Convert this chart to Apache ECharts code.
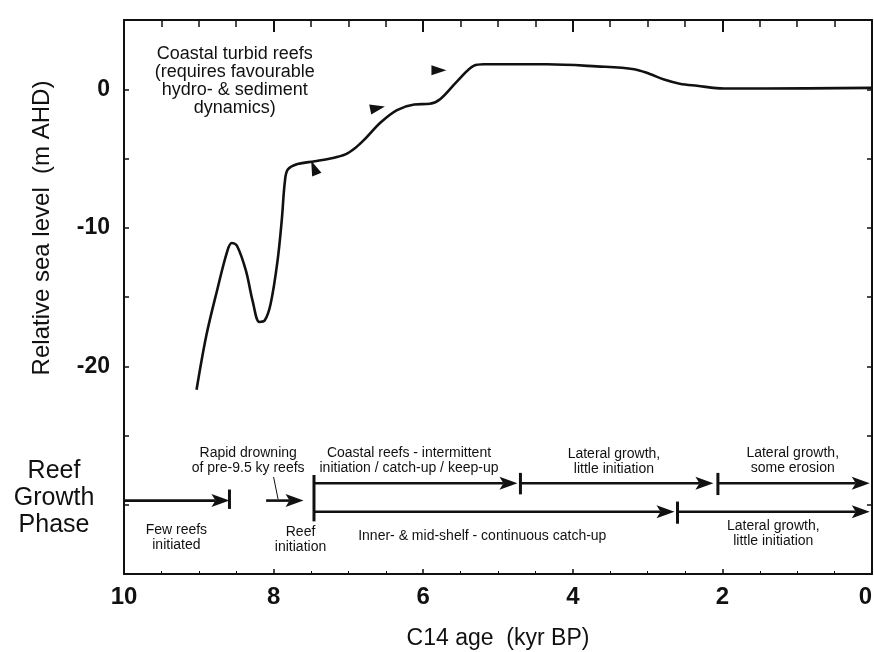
<!DOCTYPE html>
<html><head><meta charset="utf-8">
<script src="https://cdn.jsdelivr.net/npm/echarts@6/dist/echarts.min.js"></script>
<style>html,body{margin:0;padding:0;background:#fff}#c{width:874px;height:652px}</style>
</head><body><div id="c"></div>
<script>
// Relative sea-level curve (C14 age kyr BP, m AHD)
const ageKyr = [9.03, 8.90, 8.75, 8.62, 8.56, 8.49, 8.37, 8.28, 8.19, 8.12, 8.04, 7.95, 7.89, 7.85, 7.81, 7.68, 7.45, 7.24, 7.04, 6.90, 6.78, 6.57, 6.35, 6.12, 5.91, 5.77, 5.55, 5.32, 5.19, 4.35, 3.68, 3.18, 2.97, 2.78, 2.57, 2.34, 1.98, 1.44, 0.00];
const seaLevelM = [-21.7, -17.8, -14.4, -11.7, -11.1, -11.3, -13.1, -15.3, -16.8, -16.7, -15.5, -12.5, -9.4, -6.7, -5.8, -5.4, -5.2, -5.0, -4.7, -4.2, -3.6, -2.4, -1.5, -1.1, -1.05, -0.7, 0.55, 1.7, 1.8, 1.8, 1.65, 1.45, 1.1, 0.7, 0.4, 0.25, 0.05, 0.05, 0.1];

// Axis tick labels
const xTickLabels = [10, 8, 6, 4, 2, 0];
const yTickLabels = [0, -10, -20];

// Small arrowheads along the curve
const curveArrowAge = [7.46, 6.61, 5.79];
const curveArrowLevel = [-5.67, -1.35, 1.37];

// Reef growth phase arrows: from age, to age (tip), level
const phaseFrom = [10.0, 8.10, 7.46, 4.70, 2.06, 7.46, 2.60];
const phaseTo = [8.59, 7.60, 4.74, 2.12, 0.03, 2.64, 0.03];
const phaseLevel = [-29.7, -29.7, -28.45, -28.45, -28.45, -30.5, -30.5];

// Phase boundary bars: age, top level, bottom level
const barAge = [8.59, 7.46, 4.70, 2.06, 2.60];
const barTop = [-28.9, -27.85, -27.7, -27.7, -29.77];
const barBottom = [-30.3, -31.2, -29.25, -29.3, -31.37];

// Leader line from "Rapid drowning" note to its arrow
const leaderAge = [8.00, 7.94];
const leaderLevel = [-28.0, -29.6];

// Phase notes
const noteText = [
  'Rapid drowning\nof pre-9.5 ky reefs',
  'Few reefs\ninitiated',
  'Reef\ninitiation',
  'Coastal reefs - intermittent\ninitiation / catch-up / keep-up',
  'Lateral growth,\nlittle initiation',
  'Lateral growth,\nsome erosion',
  'Inner- & mid-shelf - continuous catch-up',
  'Lateral growth,\nlittle initiation'
];
const noteAge = [8.34, 9.30, 7.64, 6.19, 3.45, 1.06, 5.21, 1.32];
const noteLevel = [-26.8, -32.4, -32.5, -26.8, -26.9, -26.8, -32.3, -32.05];

// Upper annotation
const headNoteText = ['Coastal turbid reefs\n(requires favourable\nhydro- & sediment\ndynamics)'];
const headNoteAge = [8.52];
const headNoteLevel = [0.6];

const FONT = '"Liberation Sans", Arial, Helvetica, sans-serif';
const INK = '#111';

const chart = echarts.init(document.getElementById('c'), null, {renderer: 'canvas'});

const curveArrowRot = [22, -78, -90];

function renderArrow(params, api) {
  const p1 = api.coord([api.value(0), api.value(2)]);
  const p2 = api.coord([api.value(1), api.value(2)]);
  const dx = p2[0] - p1[0], dy = p2[1] - p1[1];
  const len = Math.hypot(dx, dy) || 1;
  const ux = dx / len, uy = dy / len;
  const headL = 18, headW = 6.5;
  const bx = p2[0] - ux * headL, by = p2[1] - uy * headL;
  return {
    type: 'group',
    children: [
      {type: 'line', shape: {x1: p1[0], y1: p1[1], x2: bx + ux * 4, y2: by + uy * 4},
        style: {stroke: INK, lineWidth: 2.6}},
      {type: 'polygon', shape: {points: [
        [p2[0], p2[1]],
        [bx - uy * headW, by + ux * headW],
        [bx + ux * 4, by + uy * 4],
        [bx + uy * headW, by - ux * headW]
      ]}, style: {fill: INK}}
    ]
  };
}

function renderBar(params, api) {
  const a = api.coord([api.value(0), api.value(1)]);
  const b = api.coord([api.value(0), api.value(2)]);
  return {type: 'line', shape: {x1: a[0], y1: a[1], x2: b[0], y2: b[1]},
    style: {stroke: INK, lineWidth: 3}};
}

function makeTextRenderer(texts, size, lh) {
  return function (params, api) {
    const p = api.coord([api.value(0), api.value(1)]);
    return {type: 'text', style: {
      text: texts[params.dataIndex], x: p[0], y: p[1],
      font: size + 'px ' + FONT, fill: INK,
      align: 'center', verticalAlign: 'middle', lineHeight: lh
    }};
  };
}

const option = {
  backgroundColor: '#fff',
  animation: false,
  grid: {left: 124, right: 2, top: 20, bottom: 78, containLabel: false, outerBoundsMode: 'none'},
  xAxis: [
    {
      type: 'value', min: 0, max: 10, interval: 2, inverse: true, position: 'bottom',
      axisLine: {show: true, onZero: false, lineStyle: {color: INK, width: 2}},
      axisTick: {show: true, inside: true, length: 5, lineStyle: {color: INK, width: 1.5}},
      minorTick: {show: true, splitNumber: 4, length: 3, lineStyle: {color: INK}},
      axisLabel: {
        show: true, margin: 11, color: INK, fontFamily: FONT, fontSize: 24, fontWeight: 'bold',
        alignMinLabel: 'right',
        formatter: v => (xTickLabels.indexOf(v) >= 0 ? String(v) : '')
      },
      splitLine: {show: false},
      name: 'C14 age  (kyr BP)', nameLocation: 'middle', nameGap: 53,
      nameTextStyle: {color: INK, fontFamily: FONT, fontSize: 23}
    },
    {
      type: 'value', min: 0, max: 10, interval: 2, inverse: true, position: 'top',
      axisLine: {show: true, onZero: false, lineStyle: {color: INK, width: 2}},
      axisTick: {show: true, inside: true, length: 12, lineStyle: {color: INK, width: 2}},
      minorTick: {show: true, splitNumber: 4, length: 7, lineStyle: {color: INK, width: 1.5}},
      axisLabel: {show: false}, splitLine: {show: false}
    }
  ],
  yAxis: [
    {
      type: 'value', min: -35, max: 5, interval: 5, position: 'left',
      axisLine: {show: true, onZero: false, lineStyle: {color: INK, width: 2}},
      axisTick: {show: true, inside: true, length: 5, lineStyle: {color: INK, width: 1.5}},
      axisLabel: {
        show: true, margin: 14, color: INK, fontFamily: FONT, fontSize: 23, fontWeight: 'bold',
        formatter: v => (yTickLabels.indexOf(v) >= 0 ? String(v) : '')
      },
      splitLine: {show: false}
    },
    {
      type: 'value', min: -35, max: 5, interval: 5, position: 'right',
      axisLine: {show: true, onZero: false, lineStyle: {color: INK, width: 2}},
      axisTick: {show: true, inside: true, length: 5, lineStyle: {color: INK, width: 1.5}},
      axisLabel: {show: false}, splitLine: {show: false}
    }
  ],
  graphic: [
    {
      type: 'text', x: 42, y: 228, rotation: Math.PI / 2,
      style: {
        text: 'Relative sea level  (m AHD)', x: 0, y: 0,
        font: '24px ' + FONT, fill: INK, align: 'center', verticalAlign: 'middle'
      }
    },
    {
      type: 'text', x: 54, y: 498,
      style: {
        text: 'Reef\nGrowth\nPhase', x: 0, y: 0, font: '25px ' + FONT, fill: INK,
        align: 'center', verticalAlign: 'middle', lineHeight: 27
      }
    }
  ],
  series: [
    {
      type: 'line', name: 'Relative sea level',
      data: ageKyr.map((a, i) => [a, seaLevelM[i]]),
      showSymbol: false, smooth: 0.35,
      lineStyle: {color: INK, width: 2.6}, z: 5
    },
    {
      type: 'scatter',
      data: curveArrowAge.map((a, i) => ({value: [a, curveArrowLevel[i]], symbolRotate: curveArrowRot[i]})),
      symbol: 'triangle', symbolSize: [10, 15],
      itemStyle: {color: INK, opacity: 1}, z: 6
    },
    {
      type: 'custom', renderItem: renderArrow,
      data: phaseFrom.map((f, i) => [f, phaseTo[i], phaseLevel[i]]),
      encode: {x: [0, 1], y: 2}, z: 5
    },
    {
      type: 'custom', renderItem: renderBar,
      data: barAge.map((a, i) => [a, barTop[i], barBottom[i]]),
      encode: {x: 0, y: [1, 2]}, z: 5
    },
    {
      type: 'line', data: leaderAge.map((a, i) => [a, leaderLevel[i]]),
      showSymbol: false, lineStyle: {color: INK, width: 1}, z: 4
    },
    {
      type: 'custom', renderItem: makeTextRenderer(noteText, 14, 15),
      data: noteAge.map((a, i) => [a, noteLevel[i]]),
      encode: {x: 0, y: 1}, z: 7
    },
    {
      type: 'custom', renderItem: makeTextRenderer(headNoteText, 18, 18),
      data: headNoteAge.map((a, i) => [a, headNoteLevel[i]]),
      encode: {x: 0, y: 1}, z: 7
    }
  ]
};
chart.setOption(option);
</script>
</body></html>
